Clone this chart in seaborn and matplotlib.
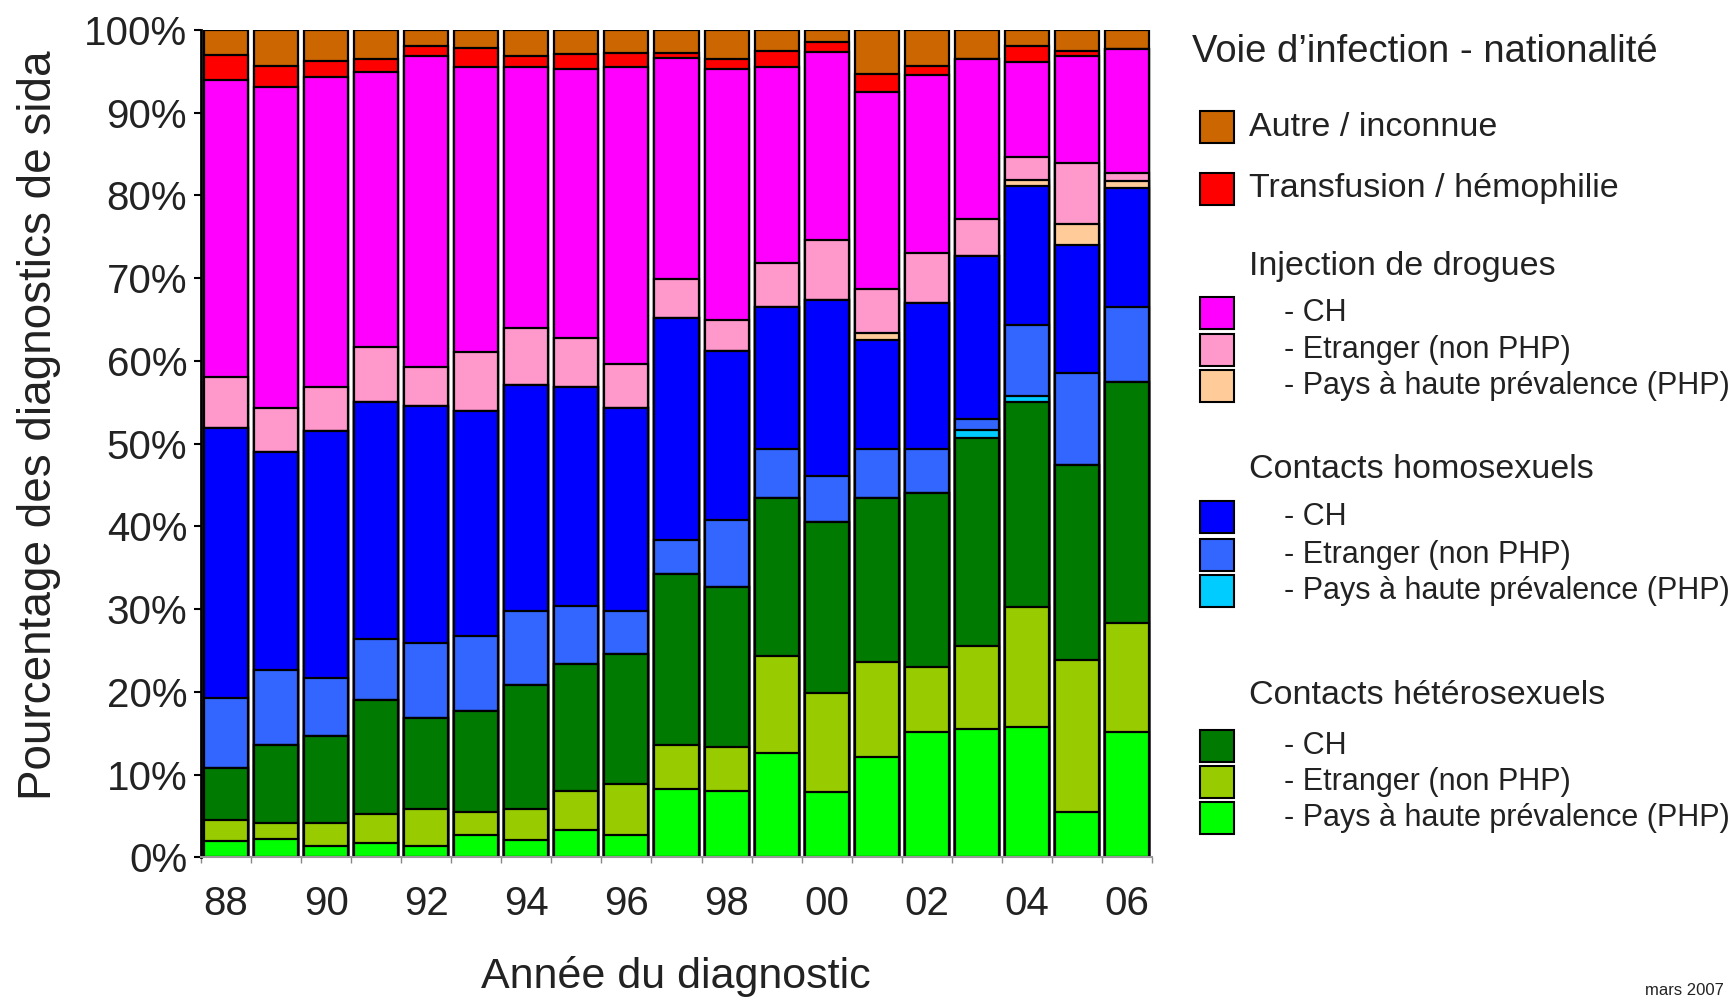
import numpy as np
import matplotlib
matplotlib.use("Agg")
import matplotlib.pyplot as plt
import seaborn as sns
from matplotlib.patches import Rectangle
from matplotlib import font_manager as fm

# ---------------- data ----------------
years = ["88", "89", "90", "91", "92", "93", "94", "95", "96", "97",
         "98", "99", "00", "01", "02", "03", "04", "05", "06"]

hetero_php = [2.0, 2.2, 1.4, 1.7, 1.4, 2.7, 2.1, 3.3, 2.7, 8.2, 8.0, 12.6, 7.9, 12.1, 15.1, 15.5, 15.7, 5.5, 15.1]
hetero_etr = [2.5, 2.0, 2.8, 3.5, 4.4, 2.8, 3.7, 4.7, 6.2, 5.4, 5.3, 11.7, 12.0, 11.5, 7.9, 10.0, 14.5, 18.4, 13.2]
hetero_ch = [6.3, 9.4, 10.5, 13.8, 11.0, 12.2, 15.0, 15.4, 15.7, 20.7, 19.4, 19.1, 20.6, 19.8, 21.0, 25.2, 24.8, 23.5, 29.1]
homo_php = [0, 0, 0, 0, 0, 0, 0, 0, 0, 0, 0, 0, 0, 0, 0, 0.9, 0.8, 0, 0]
homo_etr = [8.4, 9.1, 7.0, 7.4, 9.1, 9.1, 9.0, 7.0, 5.2, 4.0, 8.1, 5.9, 5.6, 5.9, 5.3, 1.4, 8.5, 11.2, 9.1]
homo_ch = [32.7, 26.3, 29.8, 28.6, 28.7, 27.2, 27.3, 26.4, 24.5, 26.9, 20.4, 17.2, 21.3, 13.2, 17.7, 19.7, 16.9, 15.4, 14.4]
drug_php = [0, 0, 0, 0, 0, 0, 0, 0, 0, 0, 0, 0, 0, 0.9, 0, 0, 0.7, 2.5, 0.9]
drug_etr = [6.1, 5.3, 5.3, 6.7, 4.7, 7.1, 6.9, 6.0, 5.3, 4.7, 3.8, 5.3, 7.2, 5.3, 6.0, 4.4, 2.7, 7.4, 0.9]
drug_ch = [36.0, 38.8, 37.5, 33.2, 37.5, 34.4, 31.5, 32.5, 35.9, 26.7, 30.3, 23.7, 22.8, 23.8, 21.6, 19.4, 11.5, 13.0, 15.0]
transf = [3.0, 2.6, 1.9, 1.6, 1.3, 2.3, 1.4, 1.8, 1.7, 0.6, 1.2, 2.0, 1.1, 2.2, 1.0, 0, 2.0, 0.6, 0]
autre = [3.0, 4.3, 3.8, 3.5, 1.9, 2.2, 3.1, 2.9, 2.8, 2.8, 3.5, 2.5, 1.5, 5.3, 4.4, 3.5, 1.9, 2.5, 2.3]

# bottom -> top
layers = [hetero_php, hetero_etr, hetero_ch, homo_php, homo_etr, homo_ch,
          drug_php, drug_etr, drug_ch, transf, autre]
c_autre, c_transf = "#CC6600", "#FF0000"
c_drug = ["#FF00FF", "#FF99CC", "#FFCC99"]      # CH, Etranger, PHP
c_homo = ["#0000FF", "#3366FF", "#00CCFF"]
c_hetero = ["#007A00", "#99CC00", "#00FF00"]
layer_colors = [c_hetero[2], c_hetero[1], c_hetero[0], c_homo[2], c_homo[1], c_homo[0],
                c_drug[2], c_drug[1], c_drug[0], c_transf, c_autre]

y_ticks = [0, 10, 20, 30, 40, 50, 60, 70, 80, 90, 100]
y_tick_labels = [f"{v}%" for v in y_ticks]
x_label = "Année du diagnostic"
y_label = "Pourcentage des diagnostics de sida"
legend_title = "Voie d\u2019infection - nationalité"
single_items = ["Autre / inconnue", "Transfusion / hémophilie"]
group_headers = ["Injection de drogues", "Contacts homosexuels", "Contacts hétérosexuels"]
sub_items = ["- CH", "- Etranger (non PHP)", "- Pays à haute prévalence (PHP)"]
footnote = "mars 2007"

# ---------------- style ----------------
sns.set_theme(style="white")
plt.rcParams['font.family'] = ['Liberation Sans', 'DejaVu Sans']
names = {f.name for f in fm.fontManager.ttflist}
narrow = 'Liberation Sans Narrow' in names
txt = "#222222"

W, H = 1730, 997
fig = plt.figure(figsize=(W / 100, H / 100), dpi=100)
fig.patch.set_facecolor("white")
ax = fig.add_axes([201 / W, 1 - 857.3 / H, 951 / W, 827.3 / H])

stack = np.array(layers, dtype=float)
cum = np.cumsum(stack, axis=0)
for i in range(len(layers) - 1, -1, -1):
    sns.barplot(x=years, y=cum[i], order=years, color=layer_colors[i], saturation=1,
                width=0.88, edgecolor="black", linewidth=1.6, errorbar=None, ax=ax)

ax.set_xlim(-0.5, len(years) - 0.5)
ax.set_ylim(0, 100)
ax.set_yticks(y_ticks)
ax.set_yticklabels(y_tick_labels, fontsize=29, color=txt)
ax.set_xticks(range(0, len(years), 2))
ax.set_xticklabels(years[::2], fontsize=29, color=txt)
ax.set_xticks(np.arange(-0.5, len(years), 1), minor=True)
ax.tick_params(axis="x", which="major", length=0, pad=20)
ax.tick_params(axis="x", which="minor", bottom=True, length=4, width=1, color="#888888")
ax.tick_params(axis="y", which="major", left=True, length=5, width=1.5, pad=5, color="black")
ax.set_xlabel("")
ax.set_ylabel("")
for s in ["top", "right"]:
    ax.spines[s].set_visible(False)
ax.spines["left"].set_color("black")
ax.spines["left"].set_linewidth(2)
ax.spines["bottom"].set_color("#999999")
ax.spines["bottom"].set_linewidth(1.5)


def fx(px):
    return px / W


def fy(py):
    return 1 - py / H


if narrow:
    fig.text(fx(39), fy(425), y_label, rotation=90, ha="center", va="center",
             fontsize=39, color=txt, family=['Liberation Sans Narrow', 'DejaVu Sans'])
else:
    fig.text(fx(39), fy(425), y_label, rotation=90, ha="center", va="center",
             fontsize=33, color=txt)
fig.text(fx(676), fy(976), x_label, ha="center", va="center", fontsize=31, color=txt)

# ---------------- legend ----------------
fig.text(fx(1192), fy(52), legend_title, ha="left", va="center", fontsize=27.5, color=txt)


def patch(yc, color):
    fig.add_artist(Rectangle((fx(1200), fy(yc + 16)), 34 / W, 32 / H, facecolor=color,
                             edgecolor="black", linewidth=1.5, transform=fig.transFigure))


patch(127, c_autre)
fig.text(fx(1249), fy(127), single_items[0], ha="left", va="center", fontsize=24.5, color=txt)
patch(189, c_transf)
fig.text(fx(1249), fy(189), single_items[1], ha="left", va="center", fontsize=24.5, color=txt)

group_y = [266, 470, 695]
group_item_y = [[313, 350, 386], [517, 555, 591], [746, 782, 818]]
group_colors = [c_drug, c_homo, c_hetero]
for g in range(3):
    fig.text(fx(1249), fy(group_y[g]), group_headers[g], ha="left", va="center",
             fontsize=24.5, color=txt)
    for k in range(3):
        patch(group_item_y[g][k], group_colors[g][k])
        fig.text(fx(1284), fy(group_item_y[g][k]), sub_items[k], ha="left", va="center",
                 fontsize=22, color=txt)

fig.text(fx(1724), fy(990), footnote, ha="right", va="center", fontsize=12, color=txt)

fig.savefig("out.png", dpi=100, facecolor="white")
